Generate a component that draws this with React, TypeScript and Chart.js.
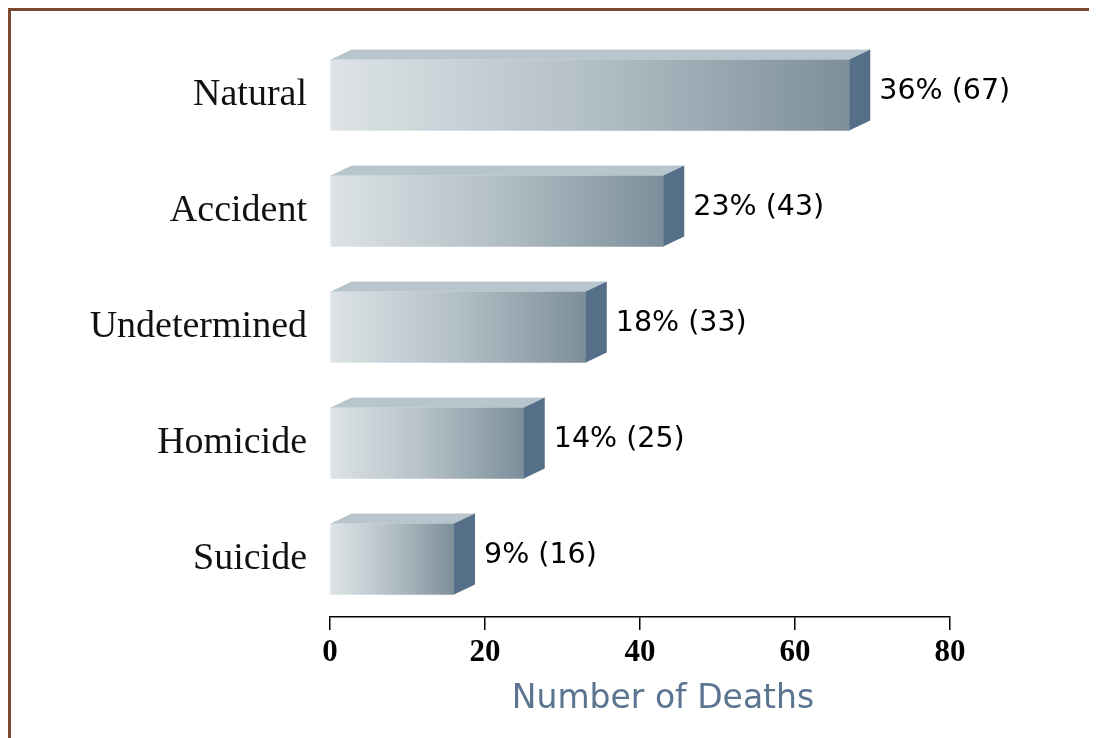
import React, { useEffect, useRef } from "react";
import { Chart, registerables } from "chart.js";

Chart.register(...registerables);

const categories = ["Natural", "Accident", "Undetermined", "Homicide", "Suicide"];
const deaths = [67, 43, 33, 25, 16];
const percents = [36, 23, 18, 14, 9];
const xMin = 0;
const xMax = 80;
const xStep = 20;
const axisTitle = "Number of Deaths";

const DX = 21;
const DY = 10;
const SANS = "'DejaVu Sans', sans-serif";
const SERIF = "'Liberation Serif', 'Times New Roman', serif";

export default function App() {
  const ref = useRef<HTMLCanvasElement>(null);

  useEffect(() => {
    const canvas = ref.current;
    if (!canvas) return;

    const threeD = {
      id: "threeD",
      afterDatasetsDraw(chart: any) {
        const ctx = chart.ctx;
        const meta = chart.getDatasetMeta(0);
        meta.data.forEach((bar: any, i: number) => {
          const { x, y, base, height } = bar.getProps(["x", "y", "base", "height"], true);
          const top = y - height / 2;
          const bottom = y + height / 2;
          ctx.save();
          // top face
          ctx.beginPath();
          ctx.moveTo(base, top);
          ctx.lineTo(base + DX, top - DY);
          ctx.lineTo(x + DX, top - DY);
          ctx.lineTo(x, top);
          ctx.closePath();
          ctx.fillStyle = "#b8c5cd";
          ctx.fill();
          // side face
          ctx.beginPath();
          ctx.moveTo(x, top);
          ctx.lineTo(x + DX, top - DY);
          ctx.lineTo(x + DX, bottom - DY);
          ctx.lineTo(x, bottom);
          ctx.closePath();
          ctx.fillStyle = "#566f88";
          ctx.fill();
          // value label
          ctx.fillStyle = "#000000";
          ctx.font = `28.5px ${SANS}`;
          ctx.textAlign = "left";
          ctx.textBaseline = "middle";
          ctx.fillText(`${percents[i]}% (${deaths[i]})`, x + DX + 9, y - DY / 2 + 2);
          ctx.restore();
        });
        // axis title
        const area = chart.chartArea;
        ctx.save();
        ctx.fillStyle = "#5b7590";
        ctx.font = `33px ${SANS}`;
        ctx.textAlign = "center";
        ctx.textBaseline = "middle";
        ctx.fillText(axisTitle, (area.left + area.right) / 2 + 23, area.bottom + 82);
        ctx.restore();
      },
    };

    const chart = new Chart(canvas, {
      type: "bar",
      data: {
        labels: categories,
        datasets: [
          {
            data: deaths,
            barThickness: 71,
            borderWidth: 0,
            backgroundColor: (c: any) => {
              const ch = c.chart;
              const sx = ch.scales?.x;
              if (!ch.chartArea || !sx || c.raw == null) return "#aab6bd";
              const x0 = sx.getPixelForValue(0);
              const x1 = sx.getPixelForValue(c.raw);
              const g = ch.ctx.createLinearGradient(x0, 0, x1, 0);
              g.addColorStop(0, "#dde3e6");
              g.addColorStop(0.5, "#b3bfc6");
              g.addColorStop(1, "#7c8f9a");
              return g;
            },
          },
        ],
      },
      options: {
        indexAxis: "y",
        responsive: false,
        animation: false,
        layout: { padding: { left: 0, right: 147, top: 26, bottom: 0 } },
        plugins: {
          legend: { display: false },
          tooltip: { enabled: false },
        },
        scales: {
          x: {
            min: xMin,
            max: xMax,
            afterFit: (s: any) => {
              s.height = 121;
            },
            ticks: {
              stepSize: xStep,
              color: "#000000",
              padding: 4,
              font: { family: SERIF, size: 31, weight: "bold" },
            },
            grid: {
              display: true,
              drawOnChartArea: false,
              drawTicks: true,
              tickLength: 13,
              color: "#000000",
              lineWidth: 1.5,
            },
            border: { display: true, color: "#000000", width: 1.5 },
          },
          y: {
            afterFit: (s: any) => {
              s.width = 319;
              s.paddingTop = 0;
              s.paddingBottom = 0;
            },
            ticks: {
              color: "#111111",
              padding: 23,
              autoSkip: false,
              font: { family: SERIF, size: 38 },
            },
            grid: { display: false, drawTicks: false },
            border: { display: false },
          },
        },
      },
      plugins: [threeD],
    } as any);

    return () => chart.destroy();
  }, []);

  return (
    <div
      style={{
        width: 1086,
        height: 727,
        borderTop: "3px solid #7b4a2f",
        borderLeft: "3px solid #7b4a2f",
        overflow: "hidden",
      }}
    >
      <canvas ref={ref} width={1086} height={727} style={{ display: "block" }} />
    </div>
  );
}
